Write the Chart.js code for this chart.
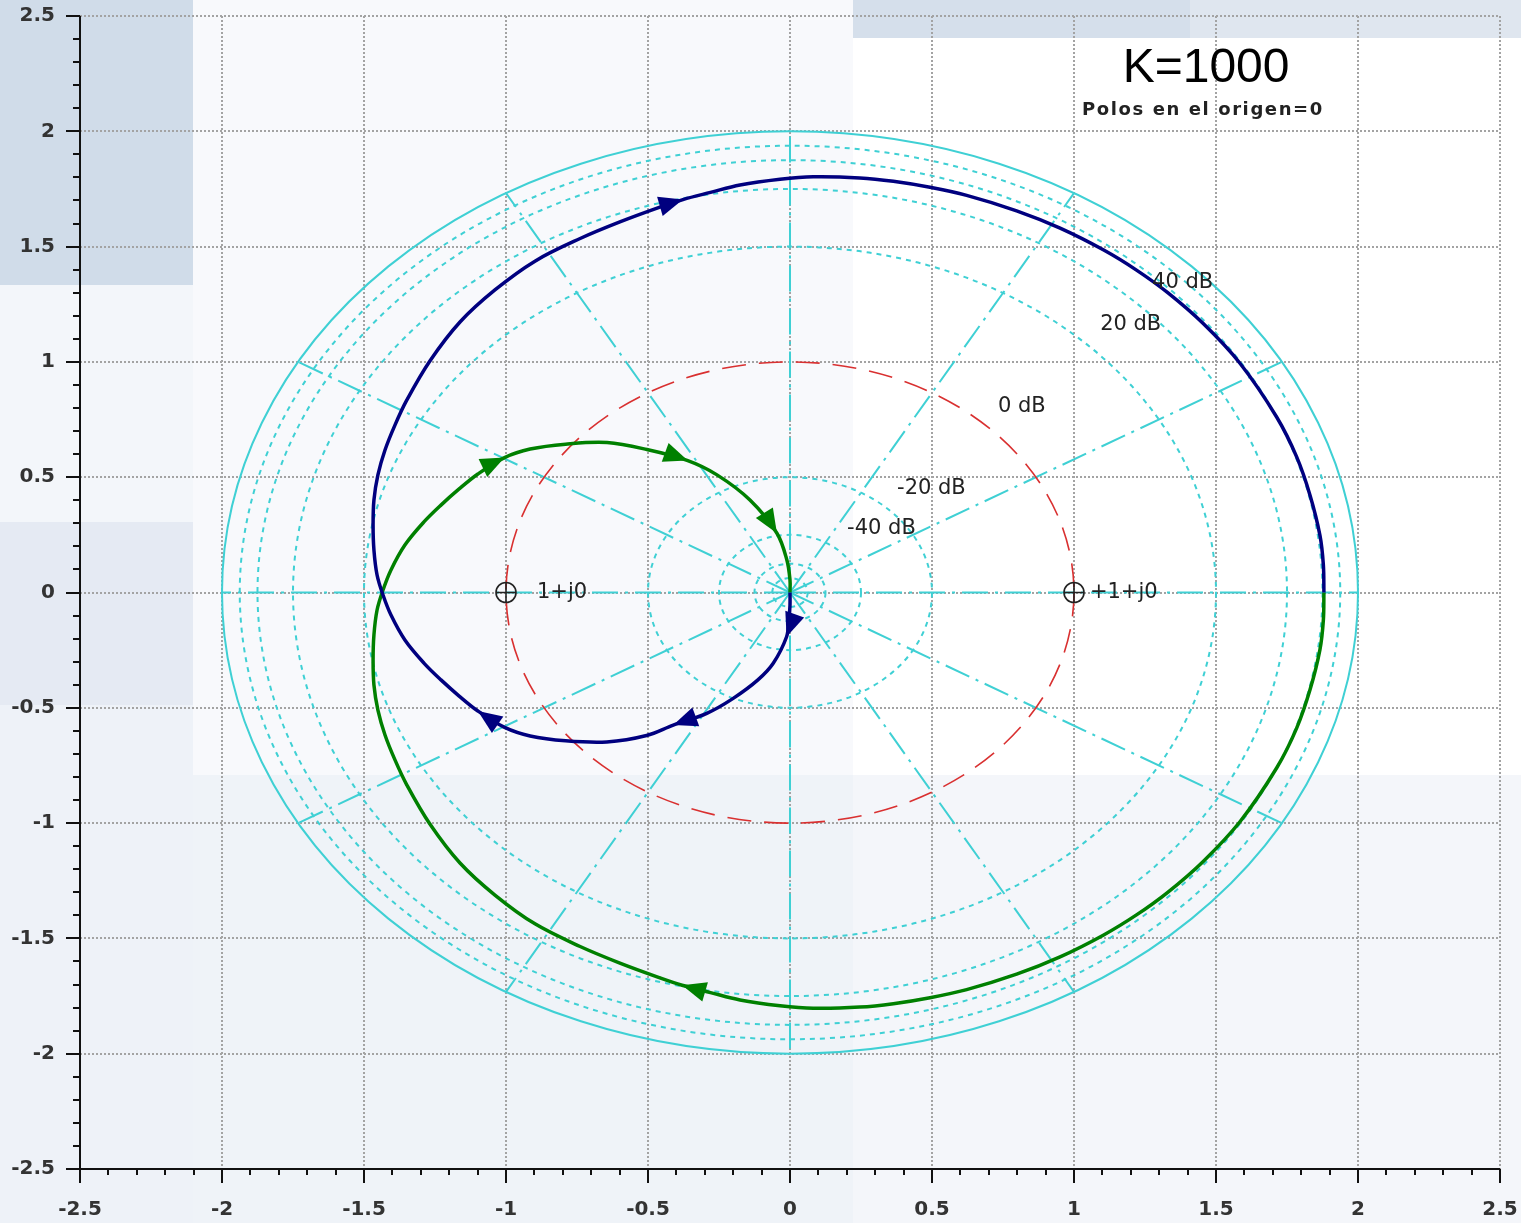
<!DOCTYPE html>
<html>
<head>
<meta charset="UTF-8">
<title>Nyquist K=1000</title>
<script src="https://cdn.jsdelivr.net/npm/chart.js@4.4.0/dist/chart.umd.min.js"></script>
<style>
  html, body { margin: 0; padding: 0; background: #ffffff; }
  #wrap { width: 1521px; height: 1223px; }
</style>
</head>
<body>
<div id="wrap"><canvas id="myChart" width="1521" height="1223"></canvas></div>

<script>
// G(jw) for w > 0 (blue), starts at the origin and ends on the real axis
var blueX = [0, 0, -0.004, -0.012, -0.059, -0.113, -0.200, -0.293, -0.411, -0.505,
  -0.645, -0.790, -0.915, -1.005, -1.099, -1.165, -1.229, -1.289, -1.356, -1.405,
  -1.433, -1.454, -1.465, -1.468, -1.465, -1.451, -1.426, -1.391, -1.349, -1.268,
  -1.162, -1.039, -0.898, -0.739, -0.599, -0.458, -0.377, -0.280, -0.176, -0.035,
  0.082, 0.246, 0.364, 0.493, 0.622, 0.798, 0.951, 1.103, 1.220, 1.330,
  1.455, 1.585, 1.714, 1.784, 1.831, 1.866, 1.878, 1.880];
var blueY = [0, -0.054, -0.119, -0.192, -0.307, -0.379, -0.459, -0.524, -0.575, -0.620,
  -0.648, -0.643, -0.622, -0.585, -0.514, -0.449, -0.379, -0.306, -0.206, -0.098,
  -0.011, 0.076, 0.184, 0.293, 0.401, 0.510, 0.618, 0.726, 0.835, 1.004,
  1.173, 1.312, 1.437, 1.535, 1.607, 1.671, 1.704, 1.735, 1.767, 1.792,
  1.803, 1.798, 1.783, 1.757, 1.722, 1.655, 1.580, 1.486, 1.398, 1.300,
  1.166, 0.993, 0.760, 0.588, 0.422, 0.248, 0.120, 0];

// G(jw) for w < 0 (green), from the real axis back into the origin
var greenX = [1.880, 1.878, 1.866, 1.831, 1.784, 1.714, 1.585, 1.455, 1.330, 1.220,
  1.103, 0.951, 0.798, 0.622, 0.493, 0.364, 0.246, 0.082, -0.035, -0.176,
  -0.280, -0.380, -0.458, -0.599, -0.739, -0.898, -1.039, -1.162, -1.268, -1.349,
  -1.391, -1.426, -1.451, -1.465, -1.468, -1.465, -1.454, -1.433, -1.405, -1.356,
  -1.289, -1.229, -1.165, -1.099, -1.005, -0.915, -0.790, -0.644, -0.504, -0.360,
  -0.257, -0.141, -0.046, -0.011, 0, 0];
var greenY = [0, -0.120, -0.248, -0.422, -0.588, -0.760, -0.993, -1.166, -1.300, -1.398,
  -1.486, -1.580, -1.655, -1.722, -1.757, -1.783, -1.798, -1.803, -1.792, -1.767,
  -1.735, -1.703, -1.671, -1.607, -1.535, -1.437, -1.312, -1.173, -1.004, -0.835,
  -0.726, -0.618, -0.510, -0.401, -0.293, -0.184, -0.076, 0.011, 0.098, 0.206,
  0.306, 0.379, 0.449, 0.514, 0.585, 0.622, 0.643, 0.650, 0.620, 0.572,
  0.510, 0.401, 0.257, 0.141, 0.054, 0];

// points of the curves that carry a direction arrow
var blueArrows = [3, 8, 14, 36];
var greenArrows = [21, 44, 49, 52];

// critical points
var critX = [-1, 1];
var critY = [0, 0];
var critText = ['1+j0', '+1+j0'];
var critTextX = [-0.891, 1.056];

// magnitude circles (radius in plot units) and phase rays (degrees)
var dottedRadii = [0.0625, 0.125, 0.25, 0.5, 1.5, 1.75, 1.875, 1.9375];
var outerRadius = 2;
var unitRadius = 1;
var rayAngles = [0, 30, 60, 90, 120, 150, 180, 210, 240, 270, 300, 330];

var dbText = ['40 dB', '20 dB', '0 dB', '-20 dB', '-40 dB'];
var dbX = [1.275, 1.092, 0.732, 0.377, 0.201];
var dbY = [1.342, 1.164, 0.806, 0.452, 0.278];

var titleText = 'K=1000';
var subText = 'Polos en el origen=0';
var titleX = 1.465, titleY = 2.215;
var subX = 1.454, subY = 2.071;

// backdrop tiles [x, y, w, h, colour] in canvas pixels
var tiles = [
  [0, 0, 193, 285, '#d0dce9'],
  [0, 285, 193, 237, '#f3f6fa'],
  [0, 522, 193, 183, '#e5eaf3'],
  [0, 705, 193, 518, '#eef2f8'],
  [193, 0, 660, 775, '#f8f9fc'],
  [193, 775, 660, 448, '#eff3f8'],
  [853, 0, 337, 38, '#d5dfeb'],
  [1190, 0, 331, 38, '#dfe6ef'],
  [853, 38, 668, 737, '#ffffff'],
  [853, 775, 668, 448, '#f4f6fa']
];

var CYAN = '#3fd0d4';
var FONT = 'DejaVu Sans';

function isMajor(v) { return Math.abs(v * 2 - Math.round(v * 2)) < 1e-6; }

function pts(xs, ys) {
  return xs.map(function (x, i) { return { x: x, y: ys[i] }; });
}

var backdrop = {
  id: 'backdrop',
  beforeDraw: function (chart) {
    var ctx = chart.ctx;
    ctx.save();
    tiles.forEach(function (t) {
      ctx.fillStyle = t[4];
      ctx.fillRect(t[0], t[1], t[2], t[3]);
    });
    ctx.restore();
  }
};

var polarGrid = {
  id: 'polarGrid',
  beforeDatasetsDraw: function (chart) {
    var ctx = chart.ctx, xs = chart.scales.x, ys = chart.scales.y, a = chart.chartArea;
    ctx.save();

    // dotted cartesian grid every 0.5
    ctx.strokeStyle = '#a3a3a3';
    ctx.lineWidth = 2;
    ctx.setLineDash([2, 2]);
    xs.ticks.forEach(function (t) {
      if (!isMajor(t.value)) return;
      var px = Math.round(xs.getPixelForValue(t.value));
      ctx.beginPath(); ctx.moveTo(px, a.top); ctx.lineTo(px, a.bottom); ctx.stroke();
    });
    ys.ticks.forEach(function (t) {
      if (!isMajor(t.value)) return;
      var py = Math.round(ys.getPixelForValue(t.value));
      ctx.beginPath(); ctx.moveTo(a.left, py); ctx.lineTo(a.right, py); ctx.stroke();
    });

    var cx = xs.getPixelForValue(0), cy = ys.getPixelForValue(0);
    function ell(r) {
      var rx = xs.getPixelForValue(r) - cx;
      var ry = cy - ys.getPixelForValue(r);
      ctx.beginPath();
      ctx.ellipse(cx, cy, rx, ry, 0, 0, Math.PI * 2);
      ctx.stroke();
    }

    // phase rays
    ctx.strokeStyle = CYAN;
    ctx.lineWidth = 2;
    ctx.setLineDash([26, 7, 3, 7]);
    rayAngles.forEach(function (deg) {
      var th = deg * Math.PI / 180;
      ctx.beginPath();
      ctx.moveTo(cx, cy);
      ctx.lineTo(xs.getPixelForValue(outerRadius * Math.cos(th)), ys.getPixelForValue(outerRadius * Math.sin(th)));
      ctx.stroke();
    });

    // magnitude circles
    ctx.setLineDash([5, 5]);
    dottedRadii.forEach(ell);
    ctx.setLineDash([]);
    ctx.lineWidth = 2;
    ell(outerRadius);

    // 0 dB circle
    ctx.strokeStyle = '#d93030';
    ctx.lineWidth = 1.6;
    ctx.setLineDash([24, 13]);
    ell(unitRadius);

    ctx.restore();
  },

  afterDatasetsDraw: function (chart) {
    var ctx = chart.ctx, xs = chart.scales.x, ys = chart.scales.y, a = chart.chartArea;
    ctx.save();

    function arrows(xv, yv, idx, color) {
      ctx.fillStyle = color;
      idx.forEach(function (i) {
        var px = xs.getPixelForValue(xv[i]), py = ys.getPixelForValue(yv[i]);
        var dx = xs.getPixelForValue(xv[i + 1]) - xs.getPixelForValue(xv[i - 1]);
        var dy = ys.getPixelForValue(yv[i + 1]) - ys.getPixelForValue(yv[i - 1]);
        var len = Math.hypot(dx, dy);
        dx /= len; dy /= len;
        var L = 24, W = 10;
        ctx.beginPath();
        ctx.moveTo(px, py);
        ctx.lineTo(px - dx * L - dy * W, py - dy * L + dx * W);
        ctx.lineTo(px - dx * L + dy * W, py - dy * L - dx * W);
        ctx.closePath();
        ctx.fill();
      });
    }
    arrows(blueX, blueY, blueArrows, '#00007f');
    arrows(greenX, greenY, greenArrows, '#008000');

    // dB labels and critical point labels
    ctx.fillStyle = '#222';
    ctx.font = '21px "' + FONT + '"';
    ctx.textAlign = 'left';
    ctx.textBaseline = 'middle';
    dbText.forEach(function (s, i) {
      ctx.fillText(s, xs.getPixelForValue(dbX[i]), ys.getPixelForValue(dbY[i]));
    });
    critText.forEach(function (s, i) {
      ctx.fillText(s, xs.getPixelForValue(critTextX[i]), ys.getPixelForValue(critY[i]));
    });

    // title block
    ctx.textAlign = 'center';
    ctx.textBaseline = 'alphabetic';
    ctx.fillStyle = '#000';
    ctx.font = '48px "Liberation Sans"';
    ctx.fillText(titleText, xs.getPixelForValue(titleX), ys.getPixelForValue(titleY));
    ctx.fillStyle = '#222';
    ctx.font = 'bold 18px "' + FONT + '"';
    ctx.letterSpacing = '1.6px';
    ctx.fillText(subText, xs.getPixelForValue(subX), ys.getPixelForValue(subY));
    ctx.letterSpacing = '0px';

    // axes with major and minor ticks
    ctx.strokeStyle = '#111';
    ctx.lineWidth = 2;
    ctx.setLineDash([]);
    ctx.beginPath();
    ctx.moveTo(a.left, a.top); ctx.lineTo(a.left, a.bottom); ctx.lineTo(a.right, a.bottom);
    ctx.stroke();
    ctx.beginPath();
    ys.ticks.forEach(function (t) {
      var py = Math.round(ys.getPixelForValue(t.value));
      ctx.moveTo(a.left - (isMajor(t.value) ? 14 : 7), py); ctx.lineTo(a.left, py);
    });
    xs.ticks.forEach(function (t) {
      var px = Math.round(xs.getPixelForValue(t.value));
      ctx.moveTo(px, a.bottom); ctx.lineTo(px, a.bottom + (isMajor(t.value) ? 14 : 6));
    });
    ctx.stroke();

    ctx.restore();
  }
};

function tickLabel(v) {
  return isMajor(v) ? String(Math.round(v * 10) / 10) : '';
}

// fixed axis boxes so the plot area spans 80..1500 x 16..1169
function fitX(s) { s.height = 54; s.paddingLeft = 0; s.paddingRight = 0; }
function fitY(s) { s.width = 80; s.paddingTop = 0; s.paddingBottom = 0; }

var ctx = document.getElementById('myChart').getContext('2d');
var myChart = new Chart(ctx, {
  type: 'scatter',
  data: {
    datasets: [
      { label: 'w>0', data: pts(blueX, blueY), showLine: true, borderColor: '#00007f', borderWidth: 3.5,
        pointRadius: 0, tension: 0.35, fill: false },
      { label: 'w<0', data: pts(greenX, greenY), showLine: true, borderColor: '#008000', borderWidth: 3.5,
        pointRadius: 0, tension: 0.35, fill: false },
      { label: 'crit', data: pts(critX, critY), pointStyle: 'circle', pointRadius: 10,
        borderColor: '#222', borderWidth: 1.6, backgroundColor: 'rgba(0,0,0,0)' },
      { label: 'crit2', data: pts(critX, critY), pointStyle: 'cross', pointRadius: 10,
        borderColor: '#222', borderWidth: 1.6 }
    ]
  },
  options: {
    responsive: false,
    animation: false,
    devicePixelRatio: 1,
    layout: { padding: { top: 16, right: 21, left: 0, bottom: 0 } },
    plugins: { legend: { display: false }, tooltip: { enabled: false } },
    scales: {
      x: {
        type: 'linear', min: -2.5, max: 2.5,
        afterFit: fitX,
        grid: { display: false, drawTicks: false },
        border: { display: false },
        ticks: { stepSize: 0.1, maxTicksLimit: 100, autoSkip: false, maxRotation: 0, padding: 29,
          color: '#333', font: { family: FONT, size: 20, weight: 'bold' }, callback: tickLabel }
      },
      y: {
        type: 'linear', min: -2.5, max: 2.5,
        afterFit: fitY,
        grid: { display: false, drawTicks: false },
        border: { display: false },
        ticks: { stepSize: 0.1, maxTicksLimit: 100, autoSkip: false, padding: 25,
          color: '#333', font: { family: FONT, size: 20, weight: 'bold' }, callback: tickLabel }
      }
    }
  },
  plugins: [backdrop, polarGrid]
});
</script>
</body>
</html>
